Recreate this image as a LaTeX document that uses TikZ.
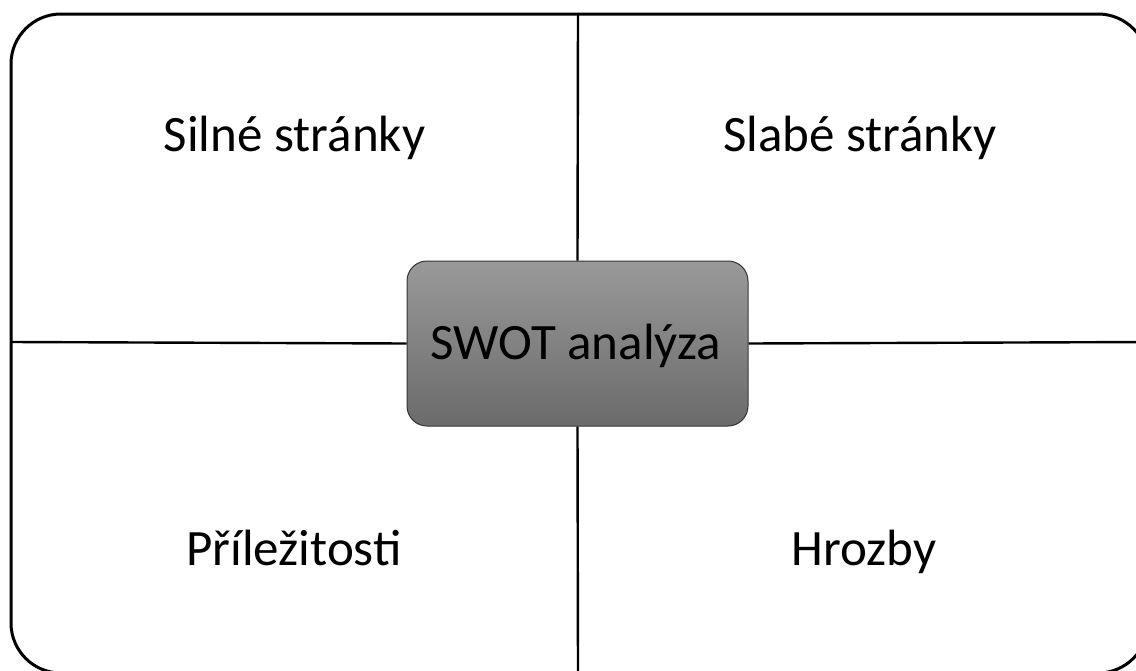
\documentclass[tikz,border=0pt]{standalone}
\usepackage{fontspec}
\setmainfont{Carlito}
\begin{document}
\begin{tikzpicture}[x=1pt,y=-1pt,
  frame/.style={line width=3pt,rounded corners=50pt},
  divider/.style={line width=2.4pt},
  label/.style={font=\fontsize{51}{60}\selectfont,text=black,inner sep=0pt,anchor=base},
  centerbox/.style={draw=black!80,line width=1pt,rounded corners=20pt,top color=black!40,bottom color=black!58,minimum width=341pt,minimum height=165pt,inner sep=0pt}]
\useasboundingbox (0,0) rectangle (1136,670);
\clip (0,0) rectangle (1136,670);
\draw[frame] (11,14) rectangle (1148,673);
\coordinate (top) at (578,14);
\coordinate (bot) at (578,673);
\coordinate (lft) at (11,342);
\coordinate (rgt) at (1148,342);
\node[centerbox] (swot) at (577.5,343.5) {};
\draw[divider] (top) -- (swot.north);
\draw[divider] (swot.south) -- (bot);
\draw[divider] (lft) -- (swot.west);
\draw[divider] (swot.east) -- (rgt);
\node[label] (swotlabel) at (576,359) {SWOT analýza};
\node[label] (s) at (294.5,151) {Silné stránky};
\node[label] (w) at (860,151) {Slabé stránky};
\node[label] (o) at (294,565) {Příležitosti};
\node[label] (t) at (864,565) {Hrozby};
\end{tikzpicture}
\end{document}
